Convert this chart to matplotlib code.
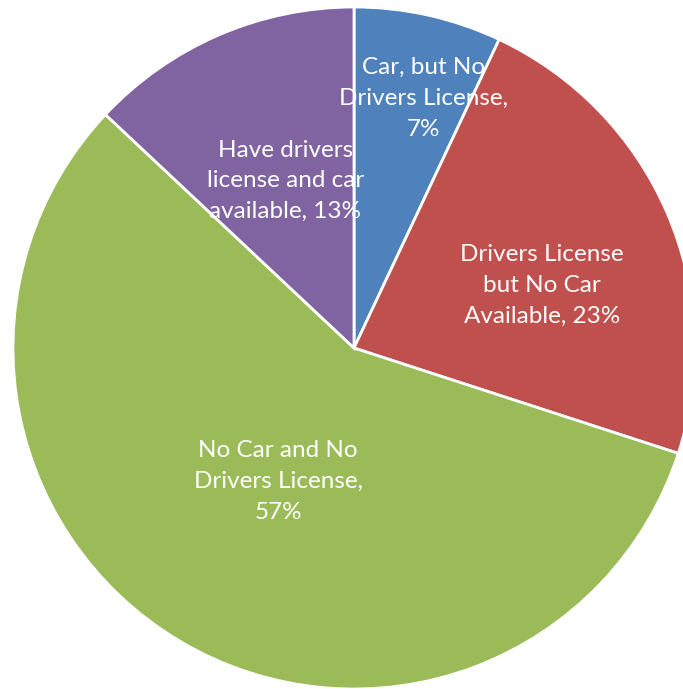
import matplotlib
matplotlib.use("Agg")
import matplotlib.pyplot as plt
import numpy as np

categories = [
    "Car, but No\nDrivers License,\n7%",
    "Drivers License\nbut No Car\nAvailable, 23%",
    "No Car and No\nDrivers License,\n57%",
    "Have drivers\nlicense and car\navailable, 13%",
]
shares = [7, 23, 57, 13]
colors = ["#4F81BD", "#C0504D", "#9BBB59", "#8064A2"]
# radial placement of each label as a fraction of the radius
label_r = [0.76, 0.58, 0.45, 0.53]
label_rot = [-3, -5, 1, -1]  # small angular nudge (degrees)

W, H = 683, 689
fig = plt.figure(figsize=(W / 100, H / 100), dpi=100)
ax = fig.add_axes([0, 0, 1, 1])

R = 341
wedges, _ = ax.pie(shares, colors=colors, startangle=90, counterclock=False,
                   radius=R, center=(0, 0),
                   wedgeprops=dict(edgecolor="white", linewidth=2))

for w, lab, fr, dth in zip(wedges, categories, label_r, label_rot):
    mid = np.deg2rad((w.theta1 + w.theta2) / 2 + dth)
    ax.text(fr * R * np.cos(mid), fr * R * np.sin(mid), lab,
            ha="center", va="center", color="white",
            fontsize=17.5, family="Lato", linespacing=1.57)

ax.set_xlim(-354, W - 354)
ax.set_ylim(-(H - 348), 348)
ax.set_aspect("equal")
ax.axis("off")

fig.savefig("out.png", dpi=100, facecolor="white")
